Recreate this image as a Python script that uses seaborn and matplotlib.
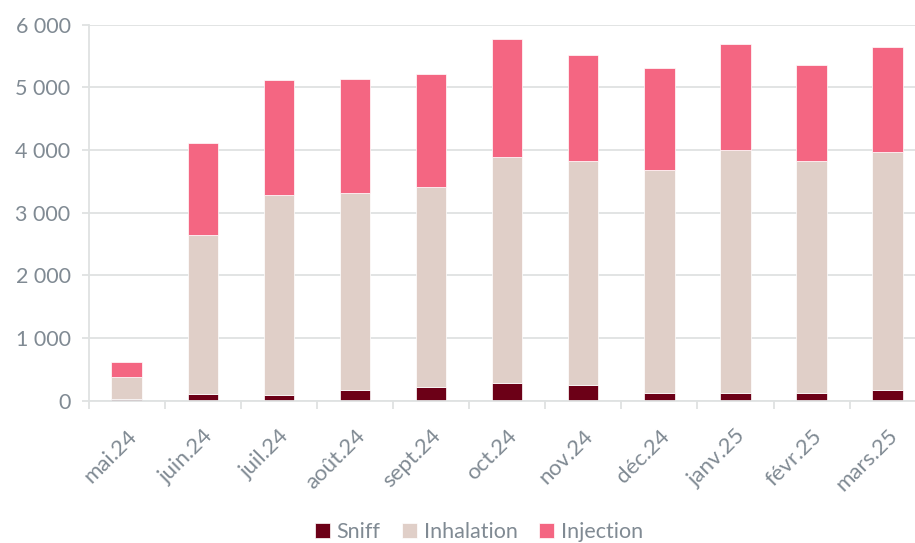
import numpy as np
import matplotlib
matplotlib.use("Agg")
import matplotlib.pyplot as plt
import seaborn as sns
from matplotlib.ticker import FuncFormatter

months = ["mai.24", "juin.24", "juil.24", "août.24", "sept.24", "oct.24",
          "nov.24", "déc.24", "janv.25", "févr.25", "mars.25"]
sniff = [20, 107, 96, 176, 219, 277, 245, 123, 123, 128, 176]
inhalation = [358, 2537, 3186, 3138, 3191, 3617, 3580, 3563, 3877, 3697, 3787]
injection = [235, 1468, 1830, 1819, 1803, 1873, 1691, 1628, 1697, 1531, 1681]

sns.set_theme(style="white")
plt.rcParams["font.family"] = ["Lato", "DejaVu Sans"]

grey_txt = "#808a93"
grid_c = "#dfe2e2"

fig = plt.figure(figsize=(9.15, 5.43), dpi=100)
ax = fig.add_axes([0.0969, 0.262, 0.9148, 0.6924])

s = np.array(sniff)
i = np.array(inhalation)
ax.set_axisbelow(True)
sns.barplot(x=months, y=sniff, color="#6c0017", width=0.4, ax=ax,
            label="Sniff", saturation=1, linewidth=0.5)
sns.barplot(x=months, y=inhalation, bottom=s, color="#e0cfc8", width=0.4,
            ax=ax, label="Inhalation", saturation=1, linewidth=0.5)
sns.barplot(x=months, y=injection, bottom=s + i, color="#f46682", width=0.4,
            ax=ax, label="Injection", saturation=1, linewidth=0.5)

ax.set_ylim(0, 6000)
ax.set_xlim(-0.5, len(months) - 0.5)
ax.set_yticks(range(0, 6001, 1000))
ax.yaxis.set_major_formatter(FuncFormatter(lambda v, p: f"{int(v):,}".replace(",", " ")))
ax.yaxis.grid(True, color=grid_c, linewidth=1.3)
ax.tick_params(axis="y", length=5, color=grid_c, width=1.3, pad=8,
               labelsize=15.5, labelcolor=grey_txt, left=True)

ax.set_xticks(np.arange(len(months)))
ax.set_xticklabels(months, rotation=45, ha="right", rotation_mode="anchor",
                   fontsize=16, color=grey_txt)
ax.set_xticks(np.arange(-0.5, len(months), 1), minor=True)
ax.tick_params(axis="x", which="major", length=0, pad=18)
ax.tick_params(axis="x", which="minor", length=6, color=grid_c, width=1.3, bottom=True)

for side in ["top", "right"]:
    ax.spines[side].set_visible(False)
for side in ["left", "bottom"]:
    ax.spines[side].set_color(grid_c)
    ax.spines[side].set_linewidth(1.3)

handles, labels = ax.get_legend_handles_labels()
if ax.get_legend() is not None:
    ax.get_legend().remove()
fig.legend(handles, labels, loc="center", bbox_to_anchor=(479 / 915, 1 - 532 / 543),
           ncol=3, frameon=False, fontsize=15.5, labelcolor=grey_txt,
           handlelength=0.7, handleheight=0.7, handletextpad=0.3, columnspacing=1.0)

fig.savefig("out.png", dpi=100)
